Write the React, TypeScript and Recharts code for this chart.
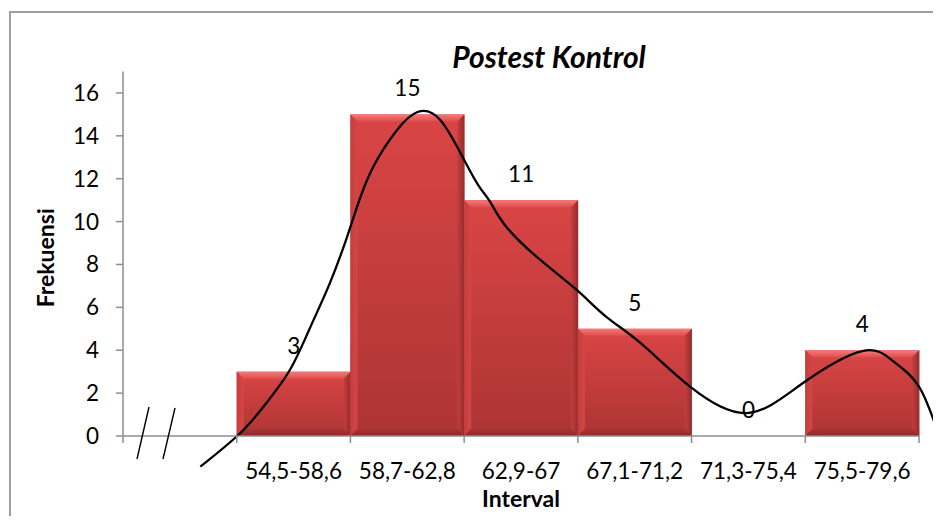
import React from 'react';
import {
  ComposedChart,
  Bar,
  Line,
  XAxis,
  YAxis,
  LabelList,
} from 'recharts';

// histogram classes (first slot is the empty gap after the axis break)
const intervals = ['', '54,5-58,6', '58,7-62,8', '62,9-67', '67,1-71,2', '71,3-75,4', '75,5-79,6'];
const frekuensi = [null, 3, 15, 11, 5, 0, 4];
const yTicks = [0, 2, 4, 6, 8, 10, 12, 14, 16];

// hand drawn curve (x in category units from the y axis)
const curveX = [0.68, 1.03, 1.26, 1.47, 1.64, 1.82, 1.97, 2.07, 2.2, 2.41, 2.59, 2.79, 3.01, 3.14, 3.23, 3.37, 3.67, 3.99, 4.25, 4.55, 4.99, 5.49, 5.98, 6.5, 6.77, 7.0, 7.19];
const curveY = [-1.43, 0.13, 1.53, 3.1, 4.99, 7.14, 9.28, 10.87, 12.55, 14.27, 15.11, 14.74, 12.78, 11.57, 10.91, 9.76, 8.21, 6.81, 5.56, 4.34, 2.29, 1.07, 2.47, 3.96, 3.5, 2.3, -0.2];

const rows = intervals.map((interval, i) => ({ interval, freq: frekuensi[i] }));
const curve = curveX.map((x, i) => ({ x, y: curveY[i] }));

const FONT = 'Lato, "Open Sans", sans-serif';
const AXIS_GRAY = '#8e8e8e';
const PLOT_W = 796;

const BevelBar = (props: any) => {
  const { x, y, width, height, value } = props;
  if (value == null || !height || height <= 0) return null;
  const b = Math.min(7, height / 2, width / 2);
  const r = x + width;
  const btm = y + height;
  return (
    <g>
      <rect x={x} y={y} width={width} height={height} fill="url(#barBody)" />
      <polygon points={`${x},${y} ${r},${y} ${r - b},${y + b} ${x + b},${y + b}`} fill="url(#bevelTop)" />
      <polygon points={`${x},${y} ${x + b},${y + b} ${x + b},${btm - b} ${x},${btm}`} fill="url(#bevelLeft)" />
      <polygon points={`${r},${y} ${r},${btm} ${r - b},${btm - b} ${r - b},${y + b}`} fill="url(#bevelRight)" />
      <polygon points={`${x},${btm} ${x + b},${btm - b} ${r - b},${btm - b} ${r},${btm}`} fill="url(#bevelBottom)" />
    </g>
  );
};

const CatTick = (props: any) => {
  const { x, y, payload, index } = props;
  const half = PLOT_W / intervals.length / 2;
  return (
    <g>
      <line x1={x - half} y1={y} x2={x - half} y2={y + 7} stroke={AXIS_GRAY} strokeWidth={1.5} />
      {index === intervals.length - 1 && (
        <line x1={x + half} y1={y} x2={x + half} y2={y + 7} stroke={AXIS_GRAY} strokeWidth={1.5} />
      )}
      <text x={x} y={y + 43} textAnchor="middle" fontFamily={FONT} fontSize={22.5} fill="#000">
        {payload.value}
      </text>
    </g>
  );
};

const ValueLabel = (props: any) => {
  const { x, y, width, value } = props;
  if (value == null) return null;
  return (
    <text x={x + width / 2} y={y - 18} textAnchor="middle" fontFamily={FONT} fontSize={22.5} fill="#000">
      {value}
    </text>
  );
};

export default function App() {
  return (
    <div style={{ position: 'relative', width: 941, height: 524, margin: -8, overflow: 'hidden', background: '#fff' }}>
      <style>{`.recharts-line, .recharts-line * { clip-path: none !important; }`}</style>
      <div style={{ position: 'absolute', left: 9, top: 11, width: 1000, height: 600, border: '2px solid #a0a0a0' }} />
      <ComposedChart
        width={941}
        height={524}
        data={rows}
        margin={{ top: 71.5, right: 22, bottom: 0, left: 0 }}
        barCategoryGap={0}
        barGap={0}
        style={{ position: 'absolute', left: 0, top: 0 }}
      >
        <defs>
          <linearGradient id="barBody" x1="0" y1="0" x2="0" y2="1">
            <stop offset="0%" stopColor="#DA4545" />
            <stop offset="100%" stopColor="#AD3434" />
          </linearGradient>
          <linearGradient id="bevelTop" x1="0" y1="0" x2="0" y2="1">
            <stop offset="0%" stopColor="#F47A7A" />
            <stop offset="100%" stopColor="#DF4E4E" />
          </linearGradient>
          <linearGradient id="bevelLeft" x1="0" y1="0" x2="1" y2="0">
            <stop offset="0%" stopColor="#C43D3D" />
            <stop offset="100%" stopColor="#D64646" />
          </linearGradient>
          <linearGradient id="bevelRight" x1="0" y1="0" x2="1" y2="0">
            <stop offset="0%" stopColor="#C33E3E" />
            <stop offset="100%" stopColor="#962C2C" />
          </linearGradient>
          <linearGradient id="bevelBottom" x1="0" y1="0" x2="0" y2="1">
            <stop offset="0%" stopColor="#A83434" />
            <stop offset="100%" stopColor="#8E2929" />
          </linearGradient>
        </defs>
        <XAxis
          xAxisId="cat"
          dataKey="interval"
          type="category"
          height={88}
          interval={0}
          tickSize={0}
          tickMargin={0}
          tickLine={false}
          axisLine={{ stroke: AXIS_GRAY, strokeWidth: 1.5 }}
          tick={<CatTick />}
          label={(p: any) => {
            const vb = p.viewBox || { x: 123, width: PLOT_W };
            return (
              <text x={vb.x + vb.width / 2} y={507} textAnchor="middle" fontFamily={FONT} fontWeight="bold" fontSize={23} fill="#000">
                Interval
              </text>
            );
          }}
        />
        <XAxis xAxisId="num" dataKey="x" type="number" domain={[0, 7]} allowDataOverflow hide />
        <YAxis
          width={123}
          domain={[0, 17]}
          ticks={yTicks}
          allowDataOverflow
          interval={0}
          tickSize={7}
          tickMargin={17}
          axisLine={{ stroke: AXIS_GRAY, strokeWidth: 1.5 }}
          tickLine={{ stroke: AXIS_GRAY, strokeWidth: 1.5 }}
          tick={{ fill: '#000', fontSize: 22.5, fontFamily: FONT }}
          label={(p: any) => {
            const vb = p.viewBox || { y: 71.5, height: 364.5 };
            return (
              <text
                transform={`translate(54, ${vb.y + vb.height / 2 + 4}) rotate(-90)`}
                textAnchor="middle"
                fontFamily={FONT}
                fontWeight="bold"
                fontSize={23}
                fill="#000"
              >
                Frekuensi
              </text>
            );
          }}
        />
        <Bar xAxisId="cat" dataKey="freq" shape={<BevelBar />} isAnimationActive={false}>
          <LabelList dataKey="freq" content={<ValueLabel />} />
        </Bar>
        <Line
          xAxisId="num"
          data={curve}
          dataKey="y"
          type="natural"
          stroke="#000"
          strokeWidth={2.3}
          dot={false}
          activeDot={false}
          isAnimationActive={false}
        />
      </ComposedChart>
      <svg width={941} height={524} style={{ position: 'absolute', left: 0, top: 0, pointerEvents: 'none' }}>
        <text x={549} y={68} textAnchor="middle" fontFamily={FONT} fontWeight="bold" fontStyle="italic" fontSize={30} fill="#000">
          Postest Kontrol
        </text>
        <line x1={149} y1={407} x2={137} y2={459} stroke="#000" strokeWidth={1.4} />
        <line x1={175} y1={408} x2={163} y2={459} stroke="#000" strokeWidth={1.4} />
      </svg>
    </div>
  );
}
